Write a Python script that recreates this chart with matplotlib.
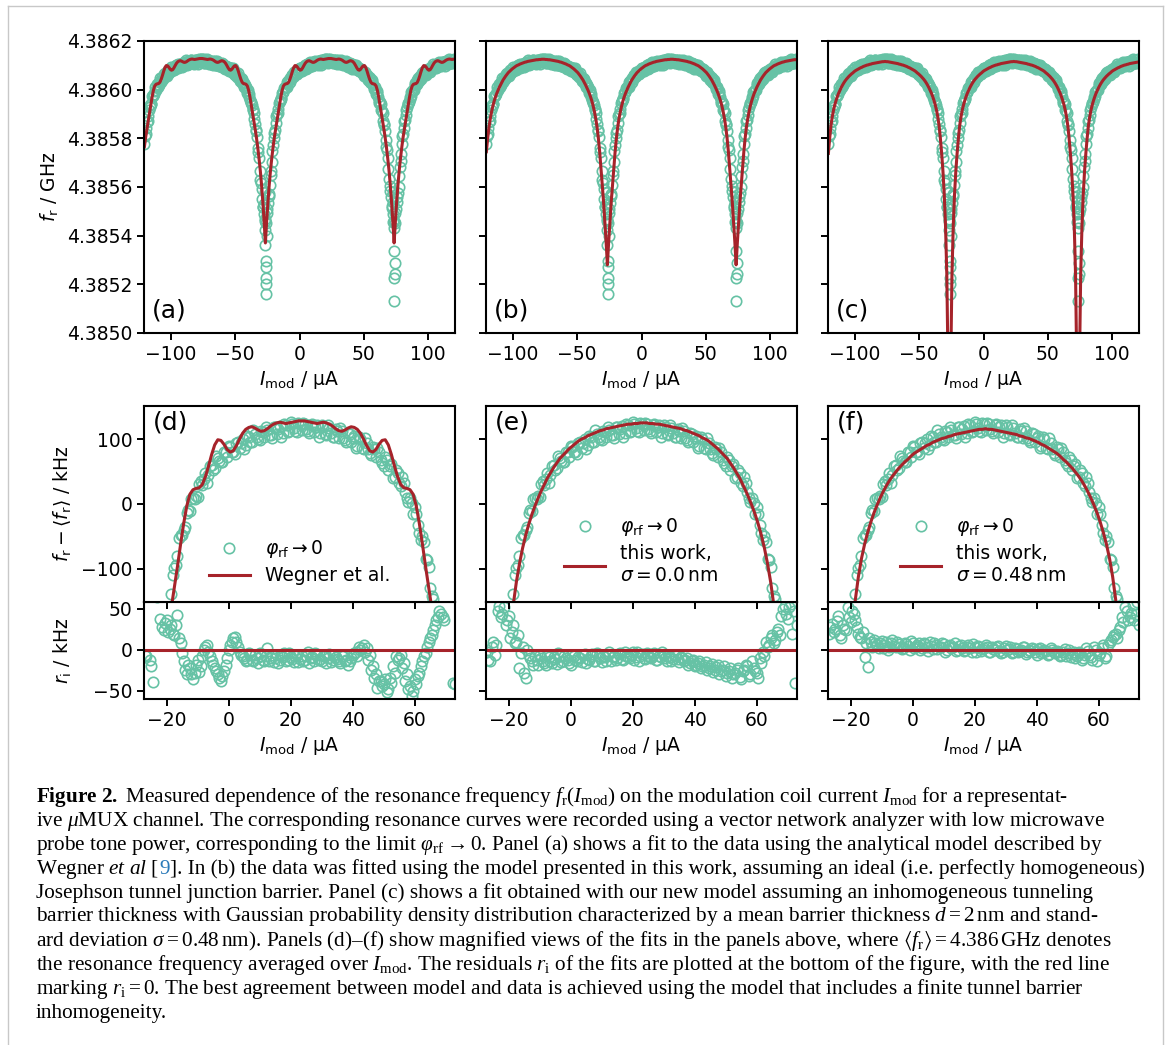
import numpy as np
import matplotlib
matplotlib.use('Agg')
import matplotlib.pyplot as plt
from matplotlib.ticker import FormatStrFormatter

plt.rcParams['font.family'] = ['DejaVu Sans']
plt.rcParams['mathtext.fontset'] = 'dejavusans'
# used only by the caption (math_fontfamily='custom')
plt.rcParams['mathtext.rm'] = 'Liberation Serif'
plt.rcParams['mathtext.it'] = 'Liberation Serif:italic'
plt.rcParams['mathtext.bf'] = 'Liberation Serif:bold'
plt.rcParams['mathtext.fallback'] = 'stix'
plt.rcParams['axes.linewidth'] = 1.5

# ---- data ---------------------------------------------------------------
f_mean = 4.386  # GHz, <f_r>
I_mod = np.arange(-120.5, 121.0, 1.0)      # uA, sweep 1 (242 points)
I_mod2 = np.arange(-120.0, 121.0, 1.0)     # uA, sweep 2 (241 points)
I_res = np.arange(-26.5, 73.0, 1.0)        # uA, residuals of sweep 1
I_res2 = np.arange(-27.0, 74.0, 1.0)       # uA, residuals of sweep 2

# measured f_r - <f_r> in kHz, sweep 1
f_data = np.array([
    -224, -181, -131, -110, -70, -57, -28, -27, -7, -3, 22, 19, 36, 33, 54, 52, 69, 59, 70, 67,
    85, 77, 88, 81, 97, 92, 105, 93, 102, 96, 111, 104, 109, 102, 117, 110, 121, 108, 116, 109,
    123, 115, 120, 112, 125,
    116, 124, 111, 119, 122, 109, 117, 107, 118, 105, 113, 101, 110, 98, 107, 95, 104, 90, 99, 86,
    92, 79, 87, 71, 79, 64, 70, 54, 58, 42, 46, 27, 29, 9, 9, -14, -17, -44, -50, -83,
    -96, -142, -168, -238, -282, -370, -410, -482, -510, -575,
    -505, -465, -428, -352, -296, -226, -180, -138, -98, -80, -48, -40, -14, -11, 10, 12, 31, 29, 47, 44,
    60, 55, 71, 65, 80, 73, 88, 80, 94, 86, 100, 91, 104, 96, 108, 100, 112, 103, 114, 106,
    118, 108, 120, 110, 122, 112, 124, 113, 125, 114,
    123, 113, 122, 111, 121, 109, 119, 107, 117, 104, 115, 102, 112, 99, 109, 95, 105, 90, 100, 85,
    94, 79, 88, 72, 80, 63, 72, 53, 61, 42, 48, 27, 32, 9, 10, -16, -15, -45, -50, -84,
    -97, -142, -170, -236, -280, -368, -415, -478, -512, -570,
    -508, -462, -425, -355, -294, -222, -182, -130, -106, -72, -58, -31, -25, -4, -1, 20, 21, 38, 36, 55,
    50, 67, 61, 75, 70, 84, 78, 90, 84, 97, 90, 103, 95, 107, 99, 111, 102, 114, 104, 117,
    107, 119, 109, 121, 110, 122, 112])

# sweep 2
f_data2 = np.array([
    -192, -158, -127, -83, -63, -57, -21, -19, 10, 9, 13, 33, 47, 41, 42, 63, 64, 56, 79, 71,
    92, 82, 79, 93, 102, 92, 88, 106, 104, 93, 113, 102, 120, 109, 104, 116, 123, 111, 106, 122,
    119, 107, 126, 114,
    126, 117, 111, 121, 126, 112, 105, 119, 114, 100, 118, 103, 119, 104, 97, 106, 110, 94, 86, 98,
    91, 75, 91, 75, 88, 70, 60, 66, 67, 48, 35, 43, 31, 9, 18, -7, -2, -30, -53, -61,
    -79, -121, -164, -196, -258, -336, -382, -450, -483, -541,
    -547, -491, -435, -393, -334, -254, -200, -166, -110, -94, -53, -47, -36, -10, 8, 7, 11, 35, 39, 33,
    59, 52, 74, 66, 64, 80, 90, 80, 77, 95, 94, 84, 105, 95, 114, 103, 98, 111, 118, 107,
    102, 118, 115, 103, 123, 111, 126, 117, 111, 123,
    125, 115, 109, 123, 118, 104, 122, 108, 122, 110, 103, 112, 117, 102, 95, 108, 102, 86, 103, 87,
    101, 85, 76, 84, 86, 68, 58, 68, 59, 40, 52, 32, 41, 19, 3, 2, -4, -32, -55, -59,
    -87, -129, -147, -207, -248, -326, -397, -441, -485, -543,
    -549, -489, -443, -401, -317, -265, -190, -156, -125, -85, -55, -49, -38, -8, 0, -1, 28, 24, 49, 43,
    44, 61, 72, 64, 62, 82, 82, 72, 94, 84, 104, 94, 90, 104, 112, 101, 96, 113, 110, 99,
    119, 107, 125, 113, 108, 120, 127])

# extra samples right at the flux dips
I_dip = np.array([-27.2, -26.9, -26.6, -26.3, -26.0, -25.8, -26.4, -26.1, -25.6, -27.0,
                  73.0, 73.3, 73.6, 73.9, 74.2, 73.5, 73.8, 72.8])
f_dip = np.array([-470, -530, -640, -705, -730, -775, -800, -838, -600, -420,
                  -460, -540, -663, -711, -759, -773, -868, -420])

# fit: Wegner et al. (kHz) on I_mod
fit_wegner = np.array([
    -235, -195, -160, -128, -96, -62, -30, -3, 15, 22, 24, 25, 30, 42, 58, 76, 91, 99, 98, 92,
    84, 80, 82, 90, 100, 109, 115, 118, 119, 117, 114, 112, 113, 116, 120, 123, 125, 126, 125, 124,
    125, 126, 127, 128, 128,
    128, 127, 126, 125, 124, 125, 126, 125, 123, 120, 116, 113, 112, 114, 117, 119, 118, 115, 109, 100,
    90, 82, 80, 84, 92, 98, 99, 91, 76, 58, 42, 30, 25, 24, 22, 15, -3, -30, -62, -96,
    -128, -160, -195, -235, -280, -330, -390, -460, -540, -630,
    -540, -460, -390, -330, -280, -235, -195, -160, -128, -96, -62, -30, -3, 15, 22, 24, 25, 30, 42, 58,
    76, 91, 99, 98, 92, 84, 80, 82, 90, 100, 109, 115, 118, 119, 117, 114, 112, 113, 116, 120,
    123, 125, 126, 125, 124, 125, 126, 127, 128, 128,
    128, 127, 126, 125, 124, 125, 126, 125, 123, 120, 116, 113, 112, 114, 117, 119, 118, 115, 109, 100,
    90, 82, 80, 84, 92, 98, 99, 91, 76, 58, 42, 30, 25, 24, 22, 15, -3, -30, -62, -96,
    -128, -160, -195, -235, -280, -330, -390, -460, -540, -630,
    -540, -460, -390, -330, -280, -235, -195, -160, -128, -96, -62, -30, -3, 15, 22, 24, 25, 30, 42, 58,
    76, 91, 99, 98, 92, 84, 80, 82, 90, 100, 109, 115, 118, 119, 117, 114, 112, 113, 116, 120,
    123, 125, 126, 125, 124, 125, 126])

# fit: this work, sigma = 0.0 nm
fit_s00 = np.array([
    -255, -200, -155, -120, -92, -68, -48, -31, -16, -3, 9, 20, 30, 40, 48, 56, 63, 70, 75, 80,
    85, 89, 93, 97, 100, 102, 105, 107, 109, 111, 113, 114, 116, 117, 118, 119, 120, 121, 122, 123,
    123, 124, 124, 125, 125,
    125, 124, 124, 123, 123, 122, 121, 120, 119, 118, 117, 116, 114, 113, 111, 109, 107, 105, 102, 100,
    97, 93, 89, 85, 80, 75, 70, 63, 56, 48, 40, 30, 20, 9, -3, -16, -31, -48, -68, -92,
    -120, -155, -200, -255, -320, -390, -460, -540, -625, -720,
    -625, -540, -460, -390, -320, -255, -200, -155, -120, -92, -68, -48, -31, -16, -3, 9, 20, 30, 40, 48,
    56, 63, 70, 75, 80, 85, 89, 93, 97, 100, 102, 105, 107, 109, 111, 113, 114, 116, 117, 118,
    119, 120, 121, 122, 123, 123, 124, 124, 125, 125,
    125, 124, 124, 123, 123, 122, 121, 120, 119, 118, 117, 116, 114, 113, 111, 109, 107, 105, 102, 100,
    97, 93, 89, 85, 80, 75, 70, 63, 56, 48, 40, 30, 20, 9, -3, -16, -31, -48, -68, -92,
    -120, -155, -200, -255, -320, -390, -460, -540, -625, -720,
    -625, -540, -460, -390, -320, -255, -200, -155, -120, -92, -68, -48, -31, -16, -3, 9, 20, 30, 40, 48,
    56, 63, 70, 75, 80, 85, 89, 93, 97, 100, 102, 105, 107, 109, 111, 113, 114, 116, 117, 118,
    119, 120, 121, 122, 123, 123, 124])

# fit: this work, sigma = 0.48 nm
fit_s48 = np.array([
    -262, -200, -148, -112, -84, -62, -44, -28, -14, -2, 9, 19, 28, 36, 43, 49, 55, 60, 65, 69,
    74, 78, 81, 84, 87, 90, 92, 95, 97, 99, 101, 102, 104, 105, 107, 108, 109, 110, 111, 112,
    113, 114, 115, 115, 116,
    115, 115, 114, 113, 112, 111, 110, 109, 108, 107, 105, 104, 102, 101, 99, 97, 95, 92, 90, 87,
    84, 81, 78, 74, 69, 65, 60, 55, 49, 43, 36, 28, 19, 9, -2, -14, -28, -44, -62, -84,
    -112, -148, -200, -262, -335, -430, -560, -760, -1150, -3000,
    -1150, -760, -560, -430, -335, -262, -200, -148, -112, -84, -62, -44, -28, -14, -2, 9, 19, 28, 36, 43,
    49, 55, 60, 65, 69, 74, 78, 81, 84, 87, 90, 92, 95, 97, 99, 101, 102, 104, 105, 107,
    108, 109, 110, 111, 112, 113, 114, 115, 115, 116,
    115, 115, 114, 113, 112, 111, 110, 109, 108, 107, 105, 104, 102, 101, 99, 97, 95, 92, 90, 87,
    84, 81, 78, 74, 69, 65, 60, 55, 49, 43, 36, 28, 19, 9, -2, -14, -28, -44, -62, -84,
    -112, -148, -200, -262, -335, -430, -560, -760, -1150, -3000,
    -1150, -760, -560, -430, -335, -262, -200, -148, -112, -84, -62, -44, -28, -14, -2, 9, 19, 28, 36, 43,
    49, 55, 60, 65, 69, 74, 78, 81, 84, 87, 90, 92, 95, 97, 99, 101, 102, 104, 105, 107,
    108, 109, 110, 111, 112, 113, 114])

# residuals r_i in kHz, sweep 1 (on I_res)
res_wegner = np.array([
    -8, -12, -39, -72, -66, 28, 33, 22, 30, 18,
    43, 8, -14, -30, -22, -36, -18, -27, -8, 4,
    -2, -14, -22, -30, -38, -26, -10, 6, 14, 10,
    -2, -8, -14, -4, -12, -6, -16, -8, -13, 2,
    -10, -15, -6, -12, -9, -14, -4, -11, -7, -15,
    -8, -12, -3, -10, -14, -6, -11, -8, -16, -5,
    -12, -9, -14, -7, -13, -18, -10, -4, -8, 0,
    6, 2, -6, -20, -30, -38, -44, -36, -48, -40,
    -28, -12, -6, -16, -30, -44, -50, -42, -28, -14,
    -4, 10, 18, 30, 40, 44, 36, 66, 72, -40])
res_s00 = np.array([
    -12, 3, -6, 48, 40, 52, 36, 14, 30, 10,
    -22, 4, -34, -6, -14, -8, -18, -10, -16, -6,
    -14, -9, -17, -7, -13, -10, -16, -6, -12, -9,
    -15, -5, -11, -8, -14, -4, -10, -7, -13, -3,
    -9, -12, -5, -11, -3, -9, -6, -12, -2, -8,
    -10, -4, -9, -6, -12, -7, -3, -10, -8, -13,
    -6, -11, -9, -14, -10, -16, -12, -18, -13, -20,
    -15, -22, -17, -24, -19, -26, -20, -28, -22, -30,
    -24, -33, -26, -18, -32, -14, -26, -34, -16, -8,
    4, 14, 8, 22, 18, 50, 44, 52, 20, -40])
res_s48 = np.array([
    28, 22, 35, 18, 30, 24, 40, 48, 36, 20,
    14, -9, -21, 10, 12, 6, 8, 2, 10, 4,
    12, 3, 7, 1, 9, 5, 11, 2, 6, 0,
    8, 4, 10, 1, 6, 3, 9, -2, 5, 2,
    8, 0, 6, -1, 4, 2, 7, -3, 3, 1,
    6, -2, 4, 0, 5, -4, 2, 0, 4, -3,
    1, -1, 3, -5, 0, 2, -2, 1, -4, 0,
    -6, 2, -3, -1, -7, -2, -8, 0, -5, -10,
    -3, -12, -6, -1, -9, 4, -14, -4, 6, -8,
    10, 16, 20, 24, 40, 52, 36, 45, 36, 58])

# residuals, sweep 2 (on I_res2)
res_wegner2 = np.array([
    -6, -75, -20, -70, 65, 38, 24, 36, 26, 20,
    30, 14, -4, -24, -18, -30, -28, -12, -20, 0,
    6, -8, -18, -26, -34, -32, -18, 0, 10, 16,
    4, -6, -10, -12, -6, -14, -10, -4, -12, -8,
    -14, -6, -10, -16, -8, -4, -12, -9, -15, -6,
    -11, -13, -7, -16, -9, -4, -12, -14, -7, -10,
    -15, -6, -11, -16, -8, -12, -14, -6, -2, 4,
    2, -2, -12, -24, -34, -46, -38, -42, -52, -34,
    -20, -8, -10, -22, -38, -48, -56, -36, -32, -20,
    -8, 4, 14, 24, 36, 48, 40, 70, 75, 80,
    -42])
res_s002 = np.array([
    -2, -14, 10, 6, 54, 44, 30, 42, 22, 8,
    18, -4, -28, 0, -10, -18, -12, -6, -14, -19,
    -9, -16, -11, -4, -15, -8, -12, -18, -7, -14,
    -10, -6, -16, -12, -5, -13, -8, -15, -9, -6,
    -14, -7, -10, -4, -12, -7, -10, -2, -9, -13,
    -5, -11, -7, -10, -4, -12, -9, -6, -14, -9,
    -11, -8, -15, -10, -12, -18, -14, -20, -16, -22,
    -18, -25, -20, -27, -21, -30, -24, -32, -26, -34,
    -28, -22, -36, -24, -20, -30, -22, -28, -10, -2,
    10, 6, 18, 12, 26, 42, 54, 38, 56, 48,
    30])
res_s482 = np.array([
    20, 32, 26, 42, 15, 26, 52, 34, 44, 28,
    16, 22, 8, 14, 4, 9, 2, 11, 6, 0,
    8, 5, 10, 4, 2, 7, 0, 9, 4, 8,
    2, 7, -1, 5, 8, 1, 4, 7, 0, 6,
    3, -1, 5, 2, 0, 6, -2, 3, 5, -1,
    2, 4, -3, 1, 3, -1, -2, 5, 1, -4,
    2, -2, 0, 3, -3, -1, 1, -6, 2, -3,
    -1, -5, 0, -4, -2, -6, 1, -4, -9, -2,
    -7, -4, -10, 2, -6, -12, 0, -6, 2, -10,
    6, 12, 18, 14, 28, 34, 48, 40, 55, 44,
    30])

fits = [fit_wegner, fit_s00, fit_s48]
residuals = [res_wegner, res_s00, res_s48]
residuals2 = [res_wegner2, res_s002, res_s482]
fit_labels = ['Wegner et al.', 'this work,\n$\\sigma = 0.0\\,$nm', 'this work,\n$\\sigma = 0.48\\,$nm']
letters_top = ['(a)', '(b)', '(c)']
letters_bot = ['(d)', '(e)', '(f)']
top_yticks = [4.3850, 4.3852, 4.3854, 4.3856, 4.3858, 4.3860, 4.3862]

teal = '#66c2a5'
red = '#a6232a'
mk = dict(ls='none', marker='o', mfc='none', mec=teal, ms=7.5, mew=1.2)

# ---- layout (pixels) ----------------------------------------------------
W, H = 1168, 1045
fig = plt.figure(figsize=(W / 100, H / 100), dpi=100)


def add_ax(x0, y0, x1, y1):
    return fig.add_axes([x0 / W, 1 - y1 / H, (x1 - x0) / W, (y1 - y0) / H])


def style(ax):
    ax.tick_params(direction='out', length=5, width=1.4, labelsize=13.5)


cols = [(144, 455), (486, 797), (828, 1139)]

for j in range(3):
    x0, x1 = cols[j]
    # full range panels (a)-(c)
    ax = add_ax(x0, 41, x1, 333)
    ax.plot(I_mod, f_mean + f_data * 1e-6, **mk)
    ax.plot(I_mod2, f_mean + f_data2 * 1e-6, **mk)
    ax.plot(I_dip, f_mean + f_dip * 1e-6, **mk)
    ax.plot(I_mod, f_mean + fits[j] * 1e-6, color=red, lw=2.2)
    ax.set_xlim(-120.8, 120.8)
    ax.set_ylim(4.3850, 4.3862)
    ax.set_yticks(top_yticks)
    ax.yaxis.set_major_formatter(FormatStrFormatter('%.4f'))
    ax.set_xticks([-100, -50, 0, 50, 100])
    ax.set_xlabel(r'$I_\mathrm{mod}$ / µA', fontsize=13.5)
    if j == 0:
        ax.set_ylabel(r'$f_\mathrm{r}$ / GHz', fontsize=13.5)
    else:
        ax.tick_params(labelleft=False)
    style(ax)
    ax.text(0.025, 0.035, letters_top[j], transform=ax.transAxes, fontsize=18,
            ha='left', va='bottom')

    # residuals (drawn first so the panel above keeps its ticks on top)
    axr = add_ax(x0, 602, x1, 699)
    axr.plot(I_res, residuals[j], **mk)
    axr.plot(I_res2, residuals2[j], **mk)
    axr.axhline(0, color=red, lw=2.2)
    axr.set_xlim(-27.3, 73.0)
    axr.set_ylim(-60, 58.5)
    axr.set_yticks([-50, 0, 50])
    axr.set_xticks([-20, 0, 20, 40, 60])
    axr.set_xlabel(r'$I_\mathrm{mod}$ / µA', fontsize=13.5)
    style(axr)

    # magnified panels (d)-(f)
    axu = add_ax(x0, 406, x1, 602)
    axu.plot(I_mod, f_data, label=r'$\varphi_\mathrm{rf} \rightarrow 0$', **mk)
    axu.plot(I_mod2, f_data2, **mk)
    axu.plot(I_mod, fits[j], color=red, lw=2.2, label=fit_labels[j])
    axu.set_xlim(-27.3, 73.0)
    axu.set_ylim(-151, 151)
    axu.set_yticks([-100, 0, 100])
    axu.set_xticks([-20, 0, 20, 40, 60])
    axu.tick_params(labelbottom=False)
    style(axu)
    axu.text(0.03, 0.975, letters_bot[j], transform=axu.transAxes, fontsize=18,
             ha='left', va='top')
    axu.legend(loc='lower center', bbox_to_anchor=(0.5, 0.0), frameon=False,
               fontsize=13.5, handlelength=2.2, handletextpad=0.8, labelspacing=0.3)

    if j == 0:
        axu.set_ylabel(r'$f_\mathrm{r} - \langle f_\mathrm{r} \rangle$ / kHz', fontsize=13.5)
        axr.set_ylabel(r'$r_\mathrm{i}$ / kHz', fontsize=13.5)
        axu.yaxis.set_label_coords(-0.225, 0.5)
        axr.yaxis.set_label_coords(-0.225, 0.5)
    else:
        axu.tick_params(labelleft=False)
        axr.tick_params(labelleft=False)

# ---- caption ------------------------------------------------------------
cap = dict(fontsize=15.3, family='Liberation Serif', math_fontfamily='custom',
           va='baseline', ha='left')
lines = [
    r'$\mathbf{Figure\ 2.}$ Measured dependence of the resonance frequency '
    r'$f_\mathrm{r}(I_\mathrm{mod})$ on the modulation coil current $I_\mathrm{mod}$ for a representat-',
    r'ive $\mu$MUX channel. The corresponding resonance curves were recorded using a vector '
    r'network analyzer with low microwave',
    r'probe tone power, corresponding to the limit $\varphi_\mathrm{rf} \rightarrow 0$. Panel (a) '
    r'shows a fit to the data using the analytical model described by',
    None,
    r'Josephson tunnel junction barrier. Panel (c) shows a fit obtained with our new model '
    r'assuming an inhomogeneous tunneling',
    r'barrier thickness with Gaussian probability density distribution characterized by a mean '
    r'barrier thickness $\bar{d} = 2\,\mathrm{nm}$ and stand-',
    r'ard deviation $\sigma = 0.48\,\mathrm{nm}$). Panels (d)–(f) show magnified views of the fits '
    r'in the panels above, where $\langle f_\mathrm{r}\rangle = 4.386\,\mathrm{GHz}$ denotes',
    r'the resonance frequency averaged over $I_\mathrm{mod}$. The residuals $r_\mathrm{i}$ of the '
    r'fits are plotted at the bottom of the figure, with the red line',
    r'marking $r_\mathrm{i} = 0$. The best agreement between model and data is achieved using the '
    r'model that includes a finite tunnel barrier',
    r'inhomogeneity.',
]
renderer = fig.canvas.get_renderer()
for i, s in enumerate(lines):
    yb = 802 + 24 * i
    if s is not None:
        fig.text(36 / W, 1 - yb / H, s, **cap)
        continue
    xpx = 36
    for piece, c in [(r'Wegner $et\ al$ [', 'black'), ('9', '#2a7ab9'),
                     (r']. In (b) the data was fitted using the model presented in this work, '
                      r'assuming an ideal (i.e. perfectly homogeneous)', 'black')]:
        t = fig.text(xpx / W, 1 - yb / H, piece, color=c, **cap)
        xpx = t.get_window_extent(renderer=renderer).x1

# light frame around the figure
for xx, yy in [([8, 8], [6, 1045]), ([8, 1163], [6, 6]), ([1163, 1163], [6, 1045])]:
    fig.add_artist(plt.Line2D(np.array(xx) / W, 1 - np.array(yy) / H,
                              transform=fig.transFigure, color='#c8c8c8', lw=1))

fig.savefig('out.png', dpi=100)
